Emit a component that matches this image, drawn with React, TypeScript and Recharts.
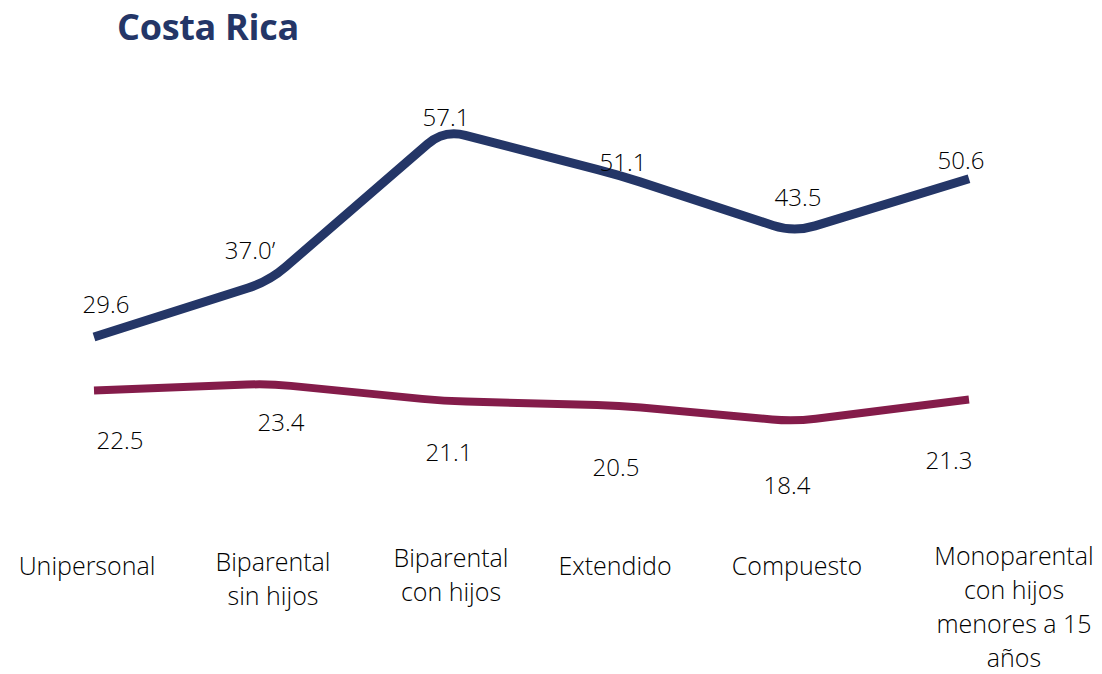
import React from 'react';
import { LineChart, Line, XAxis, YAxis, LabelList } from 'recharts';

// household types (x axis)
const categories = [
  'Unipersonal',
  'Biparental sin hijos',
  'Biparental con hijos',
  'Extendido',
  'Compuesto',
  'Monoparental con hijos menores a 15 años',
];

const tickLines = [
  ['Unipersonal'],
  ['Biparental', 'sin hijos'],
  ['Biparental', 'con hijos'],
  ['Extendido'],
  ['Compuesto'],
  ['Monoparental', 'con hijos', 'menores a 15', 'años'],
];

const topSeries = [29.6, 37.0, 57.1, 51.1, 43.5, 50.6];
const bottomSeries = [22.5, 23.4, 21.1, 20.5, 18.4, 21.3];

const topLabels = ['29.6', '37.0\u2019', '57.1', '51.1', '43.5', '50.6'];
const bottomLabels = ['22.5', '23.4', '21.1', '20.5', '18.4', '21.3'];

const chartData = categories.map((name, i) => ({
  name,
  top: topSeries[i],
  bottom: bottomSeries[i],
}));

// manual nudges for labels (as placed in the original)
const topShift = [[12, -32], [-19, -31], [2, -12], [4, -12], [4, -35], [-8, -18]];
const bottomShift = [[26, 50], [12, 39], [5, 52], [-3, 62], [-7, 64], [-20, 61]];
const tickShiftX = [-7, 4, 7, -4, 3, 45];
const tickShiftY = [6, 2, -2, 6, 6, -4];

const NAVY = '#243667';
const MAROON = '#841C4A';
const FONT = '"Open Sans", sans-serif';

// straight segments with softly rounded corners, like the Excel "smoothed" look
const roundedCurve = (context: any) => {
  let pts: number[][] = [];
  const R = 22;
  return {
    areaStart() {},
    areaEnd() {},
    lineStart() {
      pts = [];
    },
    point(x: number, y: number) {
      pts.push([+x, +y]);
    },
    lineEnd() {
      if (!pts.length) return;
      context.moveTo(pts[0][0], pts[0][1]);
      for (let i = 1; i < pts.length - 1; i++) {
        const [px, py] = pts[i - 1];
        const [vx, vy] = pts[i];
        const [nx, ny] = pts[i + 1];
        const l1 = Math.hypot(vx - px, vy - py);
        const l2 = Math.hypot(nx - vx, ny - vy);
        const d1 = Math.min(R, l1 / 2);
        const d2 = Math.min(R, l2 / 2);
        const ax = vx - ((vx - px) / l1) * d1;
        const ay = vy - ((vy - py) / l1) * d1;
        const bx = vx + ((nx - vx) / l2) * d2;
        const by = vy + ((ny - vy) / l2) * d2;
        context.lineTo(ax, ay);
        context.quadraticCurveTo(vx, vy, bx, by);
      }
      const last = pts[pts.length - 1];
      if (pts.length > 1) context.lineTo(last[0], last[1]);
    },
  };
};

const makeLabel = (texts: string[], shift: number[][]) => (props: any) => {
  const { x, y, index } = props;
  return (
    <text
      x={x + shift[index][0]}
      y={y + shift[index][1]}
      dy="0.35em"
      textAnchor="middle"
      fontFamily={FONT}
      fontSize={24}
      fontWeight={300}
      fill="#000"
    >
      {texts[index]}
    </text>
  );
};

const CategoryTick = (props: any) => {
  const { x, y, index } = props;
  const lines = tickLines[index];
  return (
    <text
      x={x + tickShiftX[index]}
      y={y + tickShiftY[index]}
      textAnchor="middle"
      fontFamily={FONT}
      fontSize={25}
      fontWeight={300}
      fill="#000"
    >
      {lines.map((line, i) => (
        <tspan key={i} x={x + tickShiftX[index]} dy={i === 0 ? '0.35em' : 34}>
          {line}
        </tspan>
      ))}
    </text>
  );
};

const App: React.FC = () => {
  return (
    <div style={{ position: 'absolute', left: 0, top: 0, width: 1102, height: 674, background: '#fff' }}>
      <div
        style={{
          position: 'absolute',
          left: 117,
          top: 1,
          fontFamily: FONT,
          fontWeight: 700,
          fontSize: 36,
          color: NAVY,
          lineHeight: '52px',
          letterSpacing: -0.3,
        }}
      >
        Costa Rica
      </div>
      <LineChart
        width={1102}
        height={674}
        data={chartData}
        margin={{ top: 108, right: 133, bottom: 0, left: 94 }}
      >
        <XAxis
          dataKey="name"
          axisLine={false}
          tickLine={false}
          tickSize={0}
          tickMargin={0}
          height={114}
          interval={0}
          tick={<CategoryTick />}
        />
        <YAxis hide domain={[0, 60]} />
        <Line
          type={roundedCurve as any}
          dataKey="top"
          stroke={NAVY}
          strokeWidth={9}
          dot={false}
          strokeLinejoin="round"
          isAnimationActive={false}
        >
          <LabelList dataKey="top" content={makeLabel(topLabels, topShift)} />
        </Line>
        <Line
          type={roundedCurve as any}
          dataKey="bottom"
          stroke={MAROON}
          strokeWidth={8}
          dot={false}
          strokeLinejoin="round"
          isAnimationActive={false}
        >
          <LabelList dataKey="bottom" content={makeLabel(bottomLabels, bottomShift)} />
        </Line>
      </LineChart>
    </div>
  );
};

export default App;
